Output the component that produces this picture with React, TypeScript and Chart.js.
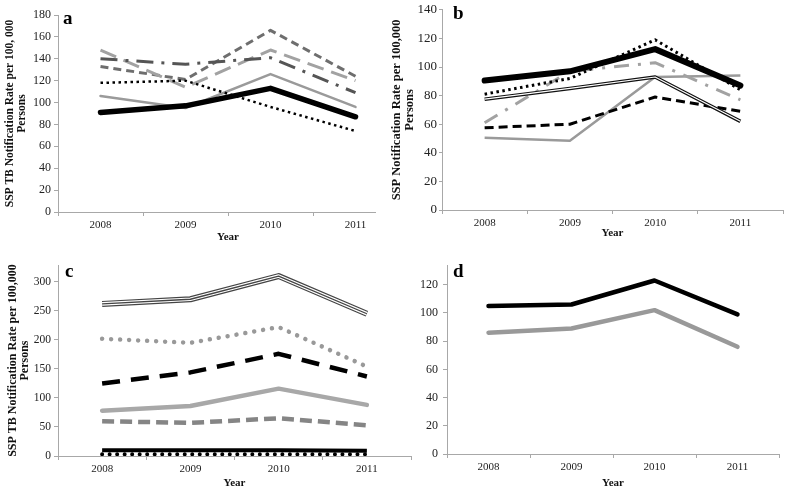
import React, { useEffect, useRef } from 'react';
import { Chart, registerables } from 'chart.js';
Chart.register(...registerables);

const YEARS = ['2008', '2009', '2010', '2011'];

// Panel a
const A_BLACK = [91, 97, 113, 87];
const A_GRAY_SOLID = [106, 95, 126, 96];
const A_DOTTED = [118, 120, 96, 74];
const A_LIGHT_LONGDASH = [148, 114, 148, 120];
const A_DARK_DASHDOT = [140, 135, 141, 109];
const A_MED_DASH = [133, 121, 166, 124];

// Panel b
const B_BLACK = [90.5, 97, 112.5, 87];
const B_DOTTED = [81, 92, 119, 84];
const B_GRAY_DASHDOT = [61, 97, 103, 77];
const B_DOUBLE = [77.5, 85, 93, 62];
const B_GRAY_SOLID = [50.5, 48.5, 93, 94];
const B_DASHED = [57.5, 60, 79, 69];

// Panel c
const C_TRIPLE = [262, 270, 310, 245];
const C_GRAY_DOTS = [202, 195, 222, 154];
const C_BLACK_DASH = [125, 144, 176, 137];
const C_LIGHT_SOLID = [78, 86, 116, 88];
const C_GRAY_DASH = [60, 57, 65, 53];
const C_BLACK_SOLID = [10, 10, 10, 9];
const C_BLACK_DOTS = [3, 3, 3, 3];

// Panel d
const D_BLACK = [105, 106, 123, 99];
const D_GRAY = [86, 89, 102, 76];

const SERIF = "'Liberation Serif', 'Times New Roman', serif";

type Line = {
  data: number[];
  color: string;
  width: number;
  dash?: number[];
  cap?: CanvasLineCap;
  order: number;
};

function ds(l: Line) {
  return {
    data: l.data,
    borderColor: l.color,
    borderWidth: l.width,
    borderDash: l.dash || [],
    borderCapStyle: l.cap || 'butt',
    borderJoinStyle: 'round',
    pointRadius: 0,
    pointHoverRadius: 0,
    fill: false,
    tension: 0,
    order: l.order,
  };
}

type PanelCfg = {
  lines: Line[];
  max: number;
  step: number;
  yTitle?: string[];
  yTitleSize?: number;
  yTitleLH?: number;
  yTickSize: number;
  padLeft: number;
  padTop: number;
  padRight: number;
  yWidth: number;
  xHeight: number;
  yTickLen: number;
  yTickPad: number;
  yearPadBottom: number;
};

function makeConfig(p: PanelCfg): any {
  return {
    type: 'line',
    data: { labels: YEARS, datasets: p.lines.map(ds) },
    options: {
      animation: false,
      responsive: false,
      maintainAspectRatio: false,
      events: [],
      layout: { padding: { left: p.padLeft, top: p.padTop, right: p.padRight, bottom: 0 } },
      plugins: { legend: { display: false }, tooltip: { enabled: false } },
      scales: {
        x: {
          type: 'category',
          offset: true,
          grid: {
            offset: true,
            drawOnChartArea: false,
            drawTicks: true,
            tickLength: 4,
            color: '#a8a8a8',
          },
          border: { color: '#a8a8a8', width: 1 },
          ticks: {
            color: '#222',
            font: { family: SERIF, size: 11 },
            padding: 3,
            maxRotation: 0,
          },
          title: {
            display: true,
            text: 'Year',
            color: '#111',
            font: { family: SERIF, size: 11, weight: 'bold', lineHeight: 1.1 },
            padding: { top: 0, bottom: p.yearPadBottom },
          },
          afterFit: (s: any) => {
            s.height = p.xHeight;
          },
        },
        y: {
          min: 0,
          max: p.max,
          grid: {
            drawOnChartArea: false,
            drawTicks: true,
            tickLength: p.yTickLen,
            color: '#a8a8a8',
          },
          border: { color: '#a8a8a8', width: 1 },
          ticks: {
            stepSize: p.step,
            includeBounds: false,
            color: '#222',
            font: { family: SERIF, size: p.yTickSize },
            padding: p.yTickPad,
          },
          title: p.yTitle
            ? {
                display: true,
                text: p.yTitle,
                color: '#111',
                font: { family: SERIF, size: p.yTitleSize || 10, weight: 'bold', lineHeight: p.yTitleLH || 1.1 },
                padding: { top: 0, bottom: 0 },
              }
            : { display: false },
          afterFit: (s: any) => {
            s.width = p.yWidth;
          },
        },
      },
    },
  };
}

function Panel(props: { left: number; top: number; width: number; height: number; cfg: PanelCfg; z: number }) {
  const ref = useRef<HTMLCanvasElement>(null);
  useEffect(() => {
    if (!ref.current) return;
    const chart = new Chart(ref.current, makeConfig(props.cfg));
    return () => chart.destroy();
  }, []);
  return (
    <canvas
      ref={ref}
      width={props.width}
      height={props.height}
      style={{
        position: 'absolute',
        left: props.left,
        top: props.top,
        width: props.width,
        height: props.height,
        background: '#fff',
        zIndex: props.z,
      }}
    />
  );
}

const panelA: PanelCfg = {
  lines: [
    { data: A_BLACK, color: '#000', width: 5.5, cap: 'round', order: 1 },
    { data: A_GRAY_SOLID, color: '#9a9a9a', width: 2.5, cap: 'round', order: 4 },
    { data: A_DOTTED, color: '#000', width: 2.5, dash: [2.5, 3.5], order: 2 },
    { data: A_LIGHT_LONGDASH, color: '#a2a2a2', width: 3, dash: [17, 8], order: 5 },
    { data: A_DARK_DASHDOT, color: '#555', width: 3, dash: [17, 8, 3, 8], order: 3 },
    { data: A_MED_DASH, color: '#6e6e6e', width: 3, dash: [8, 5], order: 6 },
  ],
  max: 180,
  step: 20,
  yTitle: ['SSP TB Notification Rate per 100, 000', 'Persons'],
  yTitleSize: 11.5,
  yTitleLH: 1.0,
  yTickSize: 12,
  padLeft: 4.75,
  padTop: 15,
  padRight: 2,
  yWidth: 53.25,
  xHeight: 30,
  yTickLen: 4,
  yTickPad: 3,
  yearPadBottom: -1,
};

const panelB: PanelCfg = {
  lines: [
    { data: B_BLACK, color: '#000', width: 6, cap: 'round', order: 1 },
    { data: B_DOTTED, color: '#000', width: 3, dash: [2.5, 3.5], order: 2 },
    { data: B_GRAY_DASHDOT, color: '#a2a2a2', width: 3, dash: [15, 9, 3, 9], order: 5 },
    { data: B_DOUBLE, color: '#fff', width: 1.2, order: 3 },
    { data: B_DOUBLE, color: '#111', width: 3.6, order: 4 },
    { data: B_GRAY_SOLID, color: '#9a9a9a', width: 2.5, order: 7 },
    { data: B_DASHED, color: '#000', width: 3, dash: [9, 5], order: 6 },
  ],
  max: 140,
  step: 20,
  yTitle: ['SSP Notification Rate per 100,000', 'Persons'],
  yTitleSize: 12.5,
  yTitleLH: 1.0,
  yTickSize: 13,
  padLeft: 14.75,
  padTop: 7,
  padRight: 4,
  yWidth: 51.25,
  xHeight: 32,
  yTickLen: 3,
  yTickPad: 2,
  yearPadBottom: 3,
};

const panelC: PanelCfg = {
  lines: [
    { data: C_TRIPLE, color: '#444', width: 1.3, order: 1 },
    { data: C_TRIPLE, color: '#fff', width: 3.6, order: 2 },
    { data: C_TRIPLE, color: '#444', width: 6, order: 3 },
    { data: C_GRAY_DOTS, color: '#999', width: 4.5, dash: [0.01, 9], cap: 'round', order: 4 },
    { data: C_BLACK_DASH, color: '#000', width: 4.5, dash: [18, 11], order: 5 },
    { data: C_LIGHT_SOLID, color: '#a8a8a8', width: 4.5, cap: 'round', order: 6 },
    { data: C_GRAY_DASH, color: '#858585', width: 4.5, dash: [12, 6], order: 7 },
    { data: C_BLACK_SOLID, color: '#000', width: 4, order: 8 },
    { data: C_BLACK_DOTS, color: '#000', width: 4, dash: [0.01, 7.5], cap: 'round', order: 9 },
  ],
  max: 329,
  step: 50,
  yTitle: ['SSP TB Notification Rate per 100,000', 'Persons'],
  yTitleSize: 12,
  yTitleLH: 1.0,
  yTickSize: 11.5,
  padLeft: 7,
  padTop: 23,
  padRight: 1,
  yWidth: 51,
  xHeight: 33,
  yTickLen: 4,
  yTickPad: 3,
  yearPadBottom: 0,
};

const panelD: PanelCfg = {
  lines: [
    { data: D_BLACK, color: '#000', width: 4.5, cap: 'round', order: 1 },
    { data: D_GRAY, color: '#999', width: 4.5, cap: 'round', order: 2 },
  ],
  max: 134,
  step: 20,
  yTickSize: 12,
  padLeft: 0,
  padTop: 23,
  padRight: 8,
  yWidth: 35,
  xHeight: 35,
  yTickLen: 4,
  yTickPad: 5,
  yearPadBottom: 0,
};

const letterStyle = (left: number, top: number): React.CSSProperties => ({
  position: 'absolute',
  left,
  top,
  fontFamily: SERIF,
  fontWeight: 'bold',
  fontSize: 19,
  lineHeight: '19px',
  color: '#000',
  zIndex: 10,
});

export default function App() {
  return (
    <div style={{ position: 'absolute', left: 0, top: 0, width: 787, height: 489, background: '#fff', overflow: 'hidden' }}>
      <Panel left={0} top={0} width={400} height={242} cfg={panelA} z={1} />
      <Panel left={376} top={0} width={411} height={242} cfg={panelB} z={2} />
      <Panel left={0} top={242} width={412} height={247} cfg={panelC} z={1} />
      <Panel left={412} top={242} width={375} height={247} cfg={panelD} z={2} />
      <div style={letterStyle(63, 8)}>a</div>
      <div style={letterStyle(453, 3)}>b</div>
      <div style={letterStyle(65, 261)}>c</div>
      <div style={letterStyle(453, 261)}>d</div>
    </div>
  );
}
